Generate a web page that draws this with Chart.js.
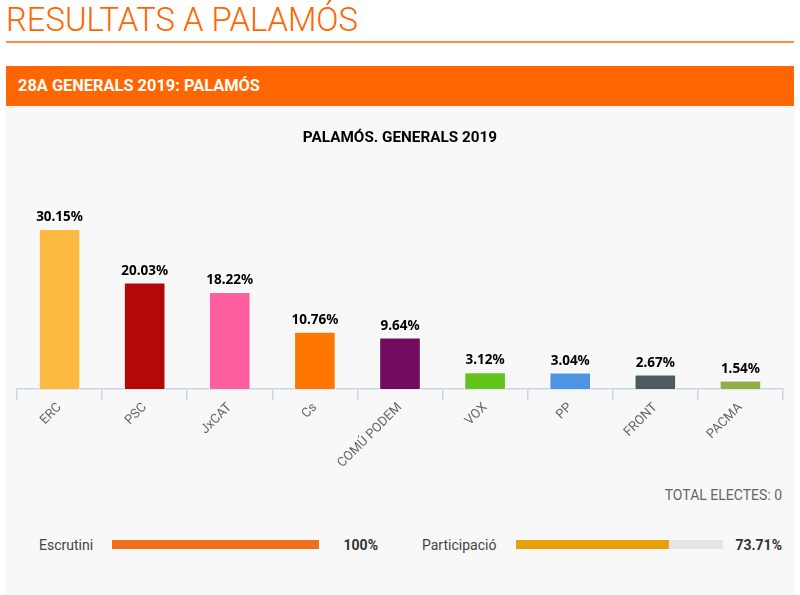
<!DOCTYPE html>
<html>
<head>
<meta charset="utf-8">
<script src="https://cdn.jsdelivr.net/npm/chart.js@4"></script>
<style>
html, body { margin: 0; padding: 0; background: #fff; overflow: hidden; }
body { width: 800px; height: 595px; position: relative; font-family: Roboto, sans-serif; }
.abs { position: absolute; white-space: nowrap; }
#titol { left: 6px; top: 0; font-size: 32.8px; line-height: 40px; font-weight: 300; color: #ff6600; }
#linia { left: 6px; top: 41px; width: 788px; height: 2px; background: #ff8a4a; }
#capcal { left: 6px; top: 66px; width: 776px; height: 40px; padding-left: 12px; background: #ff6600; color: #fff; font-size: 16.4px; font-weight: 700; line-height: 40px; }
#panell { left: 6px; top: 106px; width: 788px; height: 489px; background: #f8f8f8; }
#grafic { left: 6px; top: 106px; }
.txt { font-size: 14px; line-height: 18px; color: #444; }
.fort { font-weight: 700; color: #333; }
</style>
</head>
<body>
<div class="abs" id="titol">RESULTATS A PALAMÓS</div>
<div class="abs" id="linia"></div>
<div class="abs" id="capcal">28A GENERALS 2019: PALAMÓS</div>
<div class="abs" id="panell"></div>
<canvas class="abs" id="grafic"></canvas>
<div class="abs txt" style="right:18px;top:486px;color:#666">TOTAL ELECTES: 0</div>
<div class="abs txt" style="left:39px;top:536px">Escrutini</div>
<canvas class="abs" id="escrutini" style="left:112px;top:540px"></canvas>
<div class="abs txt fort" style="right:422px;top:536px">100%</div>
<div class="abs txt" style="left:422px;top:536px">Participació</div>
<canvas class="abs" id="participacio" style="left:516px;top:540px"></canvas>
<div class="abs txt fort" style="right:18px;top:536px">73.71%</div>
<script>
// resultats per partit
var partits = ['ERC', 'PSC', 'JxCAT', 'Cs', 'COMÚ PODEM', 'VOX', 'PP', 'FRONT', 'PACMA'];
var vots = [30.15, 20.03, 18.22, 10.76, 9.64, 3.12, 3.04, 2.67, 1.54];
var colors = ['#fbb941', '#b20808', '#ff5f9e', '#ff7700', '#730c60', '#62c41a', '#4d94e3', '#4c5c5c', '#8fae46'];
var escrutini = [100];
var escrutiniResta = [0];
var participacio = [73.71];
var participacioResta = [26.29];

Chart.defaults.animation = false;
Chart.defaults.responsive = false;

var etiquetes = {
    id: 'etiquetes',
    afterDatasetsDraw: function (chart) {
        var ctx = chart.ctx;
        ctx.save();
        ctx.font = 'bold 13.5px "Noto Sans"';
        ctx.textAlign = 'center';
        ctx.textBaseline = 'alphabetic';
        ctx.fillStyle = '#000';
        chart.getDatasetMeta(0).data.forEach(function (bar, i) {
            ctx.fillText(vots[i].toFixed(2) + '%', bar.x, bar.y - 8);
        });
        ctx.restore();
    }
};

var el = document.getElementById('grafic');
el.width = 788;
el.height = 365;
new Chart(el.getContext('2d'), {
    type: 'bar',
    data: {
        labels: partits,
        datasets: [{
            data: vots,
            backgroundColor: colors,
            borderColor: '#ffffff',
            borderWidth: 1,
            barThickness: 41
        }]
    },
    options: {
        layout: { padding: { left: 11, right: 11, top: 23, bottom: 0 } },
        plugins: {
            legend: { display: false },
            tooltip: { enabled: false },
            title: {
                display: true,
                text: 'PALAMÓS. GENERALS 2019',
                color: '#000',
                font: { family: 'Roboto', size: 15.3, weight: 'bold' },
                padding: { top: 0, bottom: 0 }
            }
        },
        scales: {
            x: {
                border: { color: '#c9d6e8', width: 1.5 },
                grid: { color: '#c9d6e8', lineWidth: 1.5, drawOnChartArea: false, tickLength: 11 },
                ticks: {
                    color: '#666',
                    font: { family: 'Roboto', size: 13 },
                    maxRotation: 45,
                    minRotation: 45,
                    padding: 0,
                    autoSkip: false
                }
            },
            y: { display: false, min: 0, max: 45.6 }
        }
    },
    plugins: [etiquetes]
});

function barra (id, amplada, valors, resta, color) {
    var canvas = document.getElementById(id);
    canvas.width = amplada;
    canvas.height = 9;
    new Chart(canvas.getContext('2d'), {
        type: 'bar',
        data: {
            labels: [''],
            datasets: [
                { data: valors, backgroundColor: color, barPercentage: 1, categoryPercentage: 1 },
                { data: resta, backgroundColor: '#e7e7e2', barPercentage: 1, categoryPercentage: 1 }
            ]
        },
        options: {
            indexAxis: 'y',
            plugins: { legend: { display: false }, tooltip: { enabled: false } },
            scales: {
                x: { display: false, stacked: true, min: 0, max: 100 },
                y: { display: false, stacked: true }
            }
        }
    });
}

barra('escrutini', 207, escrutini, escrutiniResta, '#f0701a');
barra('participacio', 207, participacio, participacioResta, '#e8a008');
</script>
</body>
</html>
